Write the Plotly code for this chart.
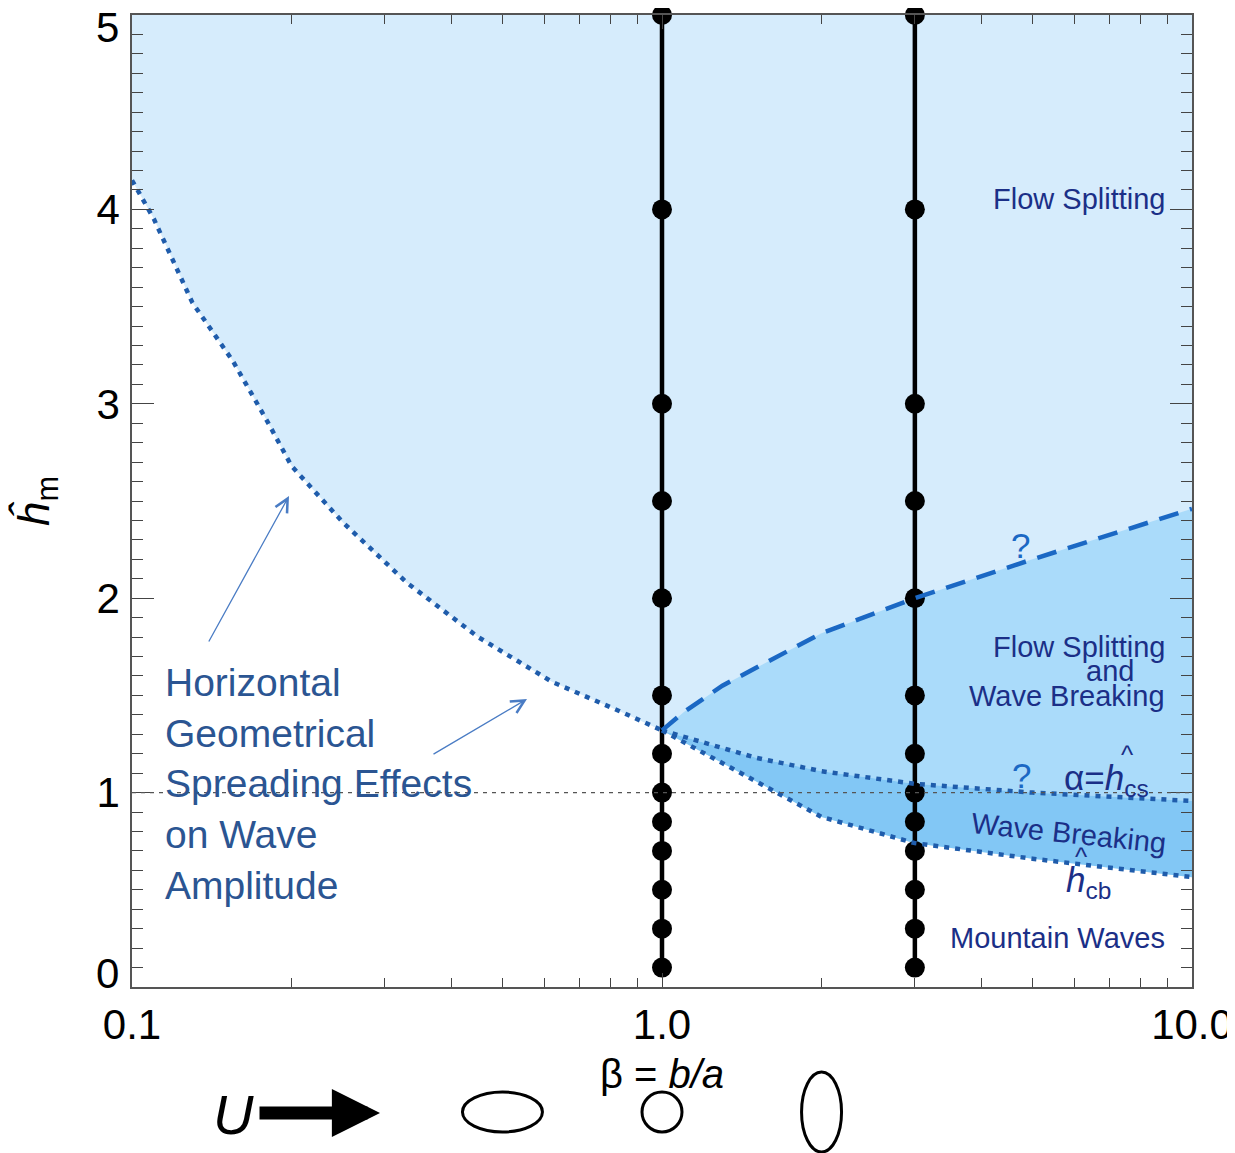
import math
import plotly.graph_objects as go

# ---------------- data ----------------
X_MIN, X_MAX = 0.1, 10.0
Y_MIN, Y_MAX = 0.0, 5.0

# left boundary (horizontal geometrical spreading), dotted
beta_left = [0.1, 0.11, 0.13, 0.155, 0.18, 0.2, 0.25, 0.33, 0.45, 0.62, 0.83, 1.0]
h_left = [4.15, 3.95, 3.52, 3.22, 2.91, 2.68, 2.39, 2.08, 1.80, 1.57, 1.42, 1.32]

# flow-splitting onset (dashed, "?")
beta_split = [1.0, 1.1, 1.3, 1.6, 2.0, 3.0, 5.0, 10.0]
h_split = [1.32, 1.415, 1.55, 1.68, 1.82, 2.0, 2.2, 2.46]

# alpha = h_cs (dotted)
beta_cs = [1.0, 1.5, 2.0, 3.0, 5.0, 10.0]
h_cs = [1.32, 1.18, 1.11, 1.045, 1.0, 0.957]

# h_cb (dotted)
beta_cb = [1.0, 1.5, 2.0, 3.0, 5.0, 10.0]
h_cb = [1.32, 1.06, 0.875, 0.74, 0.66, 0.565]

# simulation points
beta_runs = [1.0, 3.0]
h_runs = [0.1, 0.3, 0.5, 0.7, 0.85, 1.0, 1.2, 1.5, 2.0, 2.5, 3.0, 4.0, 5.0]

# mountain shapes drawn below the axis
beta_shapes = [0.5, 1.0, 2.0]

x_ticks = [0.1, 1.0, 10.0]
x_ticktext = ["0.1", "1.0", "10.0"]
y_ticks = [0, 1, 2, 3, 4, 5]
y_ticktext = ["", "1", "2", "3", "4", ""]  # end labels are drawn nudged inward, as in the source

# ---------------- styles ----------------
LIGHT = "#d6ecfc"
MED = "#aadbfa"
DARK = "#82c7f5"
DOT = "#1f5cab"
DASH = "#1b68c4"
NAVY = "#1b2f87"
ANNOT = "#2b5592"
FONT = "Liberation Sans, Arial, sans-serif"
DOTDASH = "5px,6px"

OFF = 8  # page body margin
W, H = 1235 - OFF, 1153 - OFF
ML, MR, MT, MB = 132 - OFF, 43, 15 - OFF, 166
PW, PH = W - ML - MR, H - MT - MB


def px(x):
    return (x - OFF - ML) / PW


def py(y):
    return (OFF + H - MB - y) / PH


fig = go.Figure()

# filled regimes
fig.add_trace(go.Scatter(
    x=beta_left + beta_cb[1:] + [X_MAX, X_MIN],
    y=h_left + h_cb[1:] + [Y_MAX, Y_MAX],
    fill="toself", fillcolor=LIGHT, line=dict(width=0), mode="lines",
    hoverinfo="skip", showlegend=False))
fig.add_trace(go.Scatter(
    x=beta_split + beta_cs[::-1], y=h_split + h_cs[::-1],
    fill="toself", fillcolor=MED, line=dict(width=0), mode="lines",
    hoverinfo="skip", showlegend=False))
fig.add_trace(go.Scatter(
    x=beta_cs + beta_cb[::-1], y=h_cs + h_cb[::-1],
    fill="toself", fillcolor=DARK, line=dict(width=0), mode="lines",
    hoverinfo="skip", showlegend=False))

# simulation columns
for b in beta_runs:
    fig.add_trace(go.Scatter(
        x=[b] * len(h_runs), y=h_runs, mode="lines+markers",
        line=dict(color="black", width=4.5),
        marker=dict(color="black", size=20),
        cliponaxis=False, showlegend=False))

# boundaries
fig.add_trace(go.Scatter(x=beta_left, y=h_left, mode="lines",
                         line=dict(color=DOT, width=4.5, dash=DOTDASH), showlegend=False))
fig.add_trace(go.Scatter(x=beta_cs, y=h_cs, mode="lines",
                         line=dict(color=DOT, width=4.5, dash=DOTDASH), showlegend=False))
fig.add_trace(go.Scatter(x=beta_cb, y=h_cb, mode="lines",
                         line=dict(color=DOT, width=4.5, dash=DOTDASH), showlegend=False))
fig.add_trace(go.Scatter(x=beta_split, y=h_split, mode="lines",
                         line=dict(color=DASH, width=4.5, dash="20px,12px"), showlegend=False))

shapes = [
    dict(type="line", xref="paper", yref="y", x0=0, x1=1, y0=1, y1=1,
         line=dict(color="#555555", width=1.2, dash="4px,5px"), layer="above"),
]
# mountain outlines: aspect ratio b/a = beta (placed on a hidden linear log10(beta) axis)
for b in beta_shapes:
    w = 40 * max(1.0, 1.0 / b)
    h = 40 * max(1.0, b)
    shapes.append(dict(
        type="circle", xref="x2", yref="paper",
        xsizemode="pixel", ysizemode="pixel",
        xanchor=math.log10(b), yanchor=py(1112),
        x0=-w / 2, x1=w / 2, y0=-h / 2, y1=h / 2,
        line=dict(color="black", width=3)))

ann = []


def label(text, x, y, size, color=NAVY, xanchor="center", **kw):
    ann.append(dict(text=text, x=px(x), y=py(y), xref="paper", yref="paper",
                    showarrow=False, xanchor=xanchor, yanchor="middle",
                    font=dict(family=FONT, size=size, color=color), **kw))


# end tick labels of the y axis
label("5", 121, 27, 42, color="black", xanchor="right")
label("0", 121, 973, 42, color="black", xanchor="right")

label("Flow Splitting", 1167, 199, 29, xanchor="right")
label("Flow Splitting", 1167, 647, 29, xanchor="right")
label("and", 1110, 671, 29)
label("Wave Breaking", 1167, 696, 29, xanchor="right")
label("Wave Breaking", 1069, 833, 29, textangle=6)
label("Mountain Waves", 1167, 938, 29, xanchor="right")
label("?", 1020, 545, 35, color=DASH)
label("?", 1021, 775, 35, color=DASH)
label("α=<i>h</i><sub>cs</sub>", 1062, 780, 35, xanchor="left")
label("^", 1127, 755, 26)
label("<i>h</i><sub>cb</sub>", 1064, 882, 35, xanchor="left")
label("^", 1081, 857, 26)
label("Horizontal<br>Geometrical<br>Spreading Effects<br>on Wave<br>Amplitude",
      163, 784, 39, color=ANNOT, xanchor="left", align="left")

# pointer arrows
for (tx, ty), (sx, sy) in [((289, 496), (208, 643)), ((527, 699), (432, 755))]:
    ann.append(dict(text="", x=px(tx), y=py(ty), xref="paper", yref="paper",
                    ax=sx - tx, ay=sy - ty, showarrow=True, arrowhead=5,
                    arrowsize=2.0, arrowwidth=1.3, arrowcolor="#4a7cc4"))

# flow arrow "U ->"
label("<i>U</i>", 233, 1114, 56, color="black")
ann.append(dict(text="", x=px(380), y=py(1113), xref="paper", yref="paper",
                ax=258 - 380, ay=0, showarrow=True, arrowhead=2,
                arrowsize=0.74, arrowwidth=13, arrowcolor="black", standoff=0))

fig.update_layout(
    width=W, height=H,
    margin=dict(l=ML, r=MR, t=MT, b=MB, autoexpand=False),
    paper_bgcolor="white", plot_bgcolor="white",
    font=dict(family=FONT, color="black"),
    shapes=shapes, annotations=ann,
    xaxis=dict(
        type="log", range=[math.log10(X_MIN), math.log10(X_MAX)],
        tickvals=x_ticks, ticktext=x_ticktext,
        ticks="inside", ticklen=14, tickwidth=1.2, tickcolor="#444",
        minor=dict(ticks="inside", ticklen=9, tickwidth=1.2, tickcolor="#444", dtick="D1"),
        showline=True, linecolor="#555", linewidth=1.5, mirror="ticks",
        showgrid=False, zeroline=False, automargin=False,
        ticklabeloverflow="allow",
        tickfont=dict(size=42, family=FONT, color="black"),
        title=dict(text="β = <i>b/a</i>", font=dict(size=40, family=FONT), standoff=13),
    ),
    xaxis2=dict(
        overlaying="x", range=[math.log10(X_MIN), math.log10(X_MAX)],
        visible=False, showgrid=False, zeroline=False,
    ),
    yaxis=dict(
        range=[Y_MIN, Y_MAX], tickvals=y_ticks, ticktext=y_ticktext,
        ticks="inside", ticklen=22, tickwidth=1.2, tickcolor="#444",
        minor=dict(ticks="inside", ticklen=11, tickwidth=1.2, tickcolor="#444", dtick=0.1),
        showline=True, linecolor="#555", linewidth=1.5, mirror="ticks",
        showgrid=False, zeroline=False, automargin=False,
        ticklabeloverflow="allow", ticklabelstandoff=2,
        tickfont=dict(size=42, family=FONT, color="black"),
        title=dict(text="<i>ĥ</i><sub>m</sub>", font=dict(size=44, family=FONT), standoff=36),
    ),
)

fig.write_html("out.html")
